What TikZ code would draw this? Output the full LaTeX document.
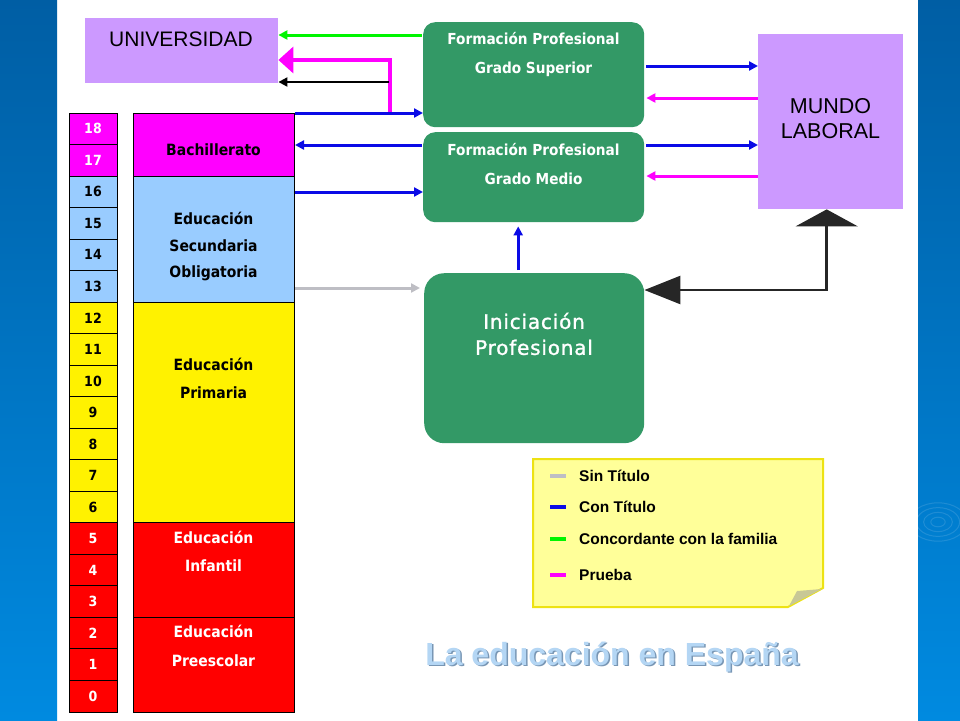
\documentclass[tikz,border=0pt]{standalone}
\usepackage{fontspec}
\setmainfont{DejaVu Sans Condensed}
\newfontfamily\arialfont{Liberation Sans}
\newfontfamily\inifont[LetterSpace=4,FakeBold=1.2]{DejaVu Sans}
\usetikzlibrary{arrows.meta,calc,positioning}
\definecolor{fpgreen}{RGB}{51,153,102}
\definecolor{lav}{RGB}{204,153,255}
\definecolor{sky}{RGB}{153,204,255}
\definecolor{mag}{RGB}{255,0,255}
\definecolor{bluecon}{RGB}{10,10,230}
\definecolor{graysin}{RGB}{190,190,196}
\definecolor{greenconc}{RGB}{0,245,0}
\definecolor{note}{RGB}{255,255,153}
\definecolor{fold}{RGB}{200,200,150}
\definecolor{panelA}{RGB}{0,94,164}
\definecolor{panelB}{RGB}{0,138,224}
\definecolor{titleblue}{RGB}{180,214,244}
\definecolor{titleshadow}{RGB}{120,150,180}
\begin{document}
\begin{tikzpicture}[x=1pt,y=-1pt,
    age/.style={draw, line width=1pt, minimum width=48pt, minimum height=31.526pt,
      font=\bfseries\fontsize{14}{16}\selectfont},
    stage/.style={draw, line width=1pt, minimum width=161pt, anchor=north west},
    stagetxt/.style={align=center, font=\bfseries\fontsize{15.5}{28.5}\selectfont},
    fp/.style={fill=fpgreen, rounded corners=12pt, minimum width=221pt, anchor=north west},
    fptxt/.style={align=center, text=white, font=\bfseries\fontsize{15.2}{29}\selectfont},
    conT/.style={draw=bluecon, line width=3pt, -{Triangle[length=9pt,width=9pt]}},
    sinT/.style={draw=graysin, line width=3pt, -{Triangle[length=9pt,width=9pt]}},
    concord/.style={draw=greenconc, line width=3pt, -{Triangle[length=9pt,width=9pt]}},
    prueba/.style={draw=mag, line width=3pt, -{Triangle[length=9pt,width=9pt]}},
    negro/.style={draw=black, line width=2pt, -{Triangle[length=9pt,width=9pt]}},
    legtxt/.style={anchor=west, font=\arialfont\bfseries\fontsize{15.5}{18}\selectfont}]
  \tikzstyle{every node}=[inner sep=0pt]
  \useasboundingbox (0,0) rectangle (960,720);
  \shade[top color=panelA, bottom color=panelB] (0,0) rectangle (57,720);
  \shade[top color=panelA, bottom color=panelB] (918,0) rectangle (960,720);
  \begin{scope}
    \clip (918,0) rectangle (960,720);
    \foreach \r in {6,12,18,24}
      \draw[white, opacity=0.12, line width=1pt] (938,522) ellipse ({\r*1.2} and \r*0.8);
  \end{scope}

  \foreach \a/\c/\t in {18/mag/white,17/mag/white,16/sky/black,15/sky/black,14/sky/black,
      13/sky/black,12/yellow/black,11/yellow/black,10/yellow/black,9/yellow/black,
      8/yellow/black,7/yellow/black,6/yellow/black,5/red/white,4/red/white,3/red/white,
      2/red/white,1/red/white,0/red/white}
    \node[age, fill=\c, text=\t] (a\a) at (93, {113+31.526*(18-\a)+15.763}) {\a};

  \node[stage, fill=mag, minimum height=63pt] (bach) at (133,113) {};
  \node[stage, fill=sky, minimum height=126pt] (eso) at (133,176) {};
  \node[stage, fill=yellow, minimum height=220pt] (prim) at (133,302) {};
  \node[stage, fill=red, minimum height=95pt] (inf) at (133,522) {};
  \node[stage, fill=red, minimum height=95pt] (pre) at (133,617) {};
  \node[stagetxt] (bach-t) at (213.5,150) {Bachillerato};
  \node[stagetxt, font=\bfseries\fontsize{15.5}{26.5}\selectfont] (eso-t) at (213.5,246.5)
    {Educación\\Secundaria\\Obligatoria};
  \node[stagetxt] (prim-t) at (213.5,378.5) {Educación\\Primaria};
  \node[stagetxt, text=white] (inf-t) at (213.5,551.5) {Educación\\Infantil};
  \node[stagetxt, text=white] (pre-t) at (213.5,646) {Educación\\Preescolar};

  \node[fill=lav, minimum width=193pt, minimum height=65pt, anchor=north west] (uni) at (85,18) {};
  \node[font=\arialfont\fontsize{21}{25}\selectfont] (uni-t) at (181,39) {UNIVERSIDAD};
  \node[fill=lav, minimum width=145pt, minimum height=175pt, anchor=north west] (mundo) at (758,34) {};
  \node[align=center, font=\arialfont\fontsize{21.5}{25}\selectfont] (mundo-t) at (830.5,118.5)
    {MUNDO\\LABORAL};

  \node[fp, minimum height=105pt] (fpgs) at (423,22) {};
  \node[fptxt] (fpgs-t) at (533.5,54.5) {Formación Profesional\\Grado Superior};
  \node[fp, minimum height=90pt] (fpgm) at (423,132) {};
  \node[fptxt] (fpgm-t) at (533.5,164) {Formación Profesional\\Grado Medio};
  \node[fp, rounded corners=20pt, minimum width=220pt, minimum height=170pt] (ini) at (424,273) {};
  \node[align=center, text=white, font=\inifont\fontsize{20}{26}\selectfont] (ini-t) at (534,334)
    {Iniciación\\Profesional};

  \coordinate (g1) at ($(fpgs.north west)+(-1,13)$);
  \draw[concord] (g1) -- (g1 -| uni.east);
  \coordinate (p1) at (390,113);
  \draw[prueba, line width=4pt, -{Triangle[length=15pt,width=26pt]}] (p1) |- ($(uni.north east)+(0,42)$);
  \coordinate (b1) at (389,82);
  \draw[negro] (b1) -- (b1 -| uni.east);
  \draw[conT] (bach.north east) -- (bach.north east -| fpgs.west);
  \coordinate (c2) at ($(fpgm.north west)+(-1,13)$);
  \draw[conT] (c2) -- (c2 -| bach.east);
  \coordinate (c3) at ($(eso.north east)+(0,16)$);
  \draw[conT] (c3) -- (c3 -| fpgm.west);
  \coordinate (s1) at ($(eso.south east)+(0,-15)$);
  \draw[sinT, shorten >=4pt] (s1) -- (s1 -| ini.west);
  \coordinate (v1) at ($(ini.north)+(-16,0)$);
  \draw[conT, shorten <=3pt, shorten >=4pt] (v1) -- (v1 |- fpgm.south);

  \coordinate (r1) at ($(fpgs.north east)+(2,44)$);
  \draw[conT] (r1) -- (r1 -| mundo.west);
  \coordinate (r2) at ($(fpgs.north east)+(2,76)$);
  \draw[prueba] (r2 -| mundo.west) -- (r2);
  \coordinate (r3) at ($(fpgm.north east)+(2,13)$);
  \draw[conT] (r3) -- (r3 -| mundo.west);
  \coordinate (r4) at ($(fpgm.north east)+(2,44)$);
  \draw[prueba] (r4 -| mundo.west) -- (r4);
  \coordinate (k1) at ($(ini.north east)+(0,17)$);
  \draw[line width=2.5pt, draw=black!85, {Triangle[length=36pt,width=28pt]}-{Triangle[length=17pt,width=62pt]}]
    (k1) -| ($(mundo.south)+(-4,0)$);

  \draw[draw=yellow!92!black, line width=2pt, fill=note]
    (533,459) -- (823,459) -- (823,588) -- (788,607) -- (533,607) -- cycle;
  \fill[fold] (822,589) -- (789,606) -- (797,591) -- cycle;
  \foreach \c/\t/\y [count=\i] in {graysin/Sin Título/476, bluecon/Con Título/507,
      greenconc/Concordante con la familia/539, mag/Prueba/575} {
    \draw[\c, line width=4pt] (550,\y) -- (566,\y);
    \node[legtxt] (leg\i) at (579,\y) {\t};
  }

  \node[text=titleshadow, font=\arialfont\bfseries\fontsize{32}{36}\selectfont] (tit-s) at (613.5,658.5)
    {La educación en España};
  \node[text=titleblue, font=\arialfont\bfseries\fontsize{32}{36}\selectfont] (tit) at (612,657)
    {La educación en España};
\end{tikzpicture}
\end{document}
